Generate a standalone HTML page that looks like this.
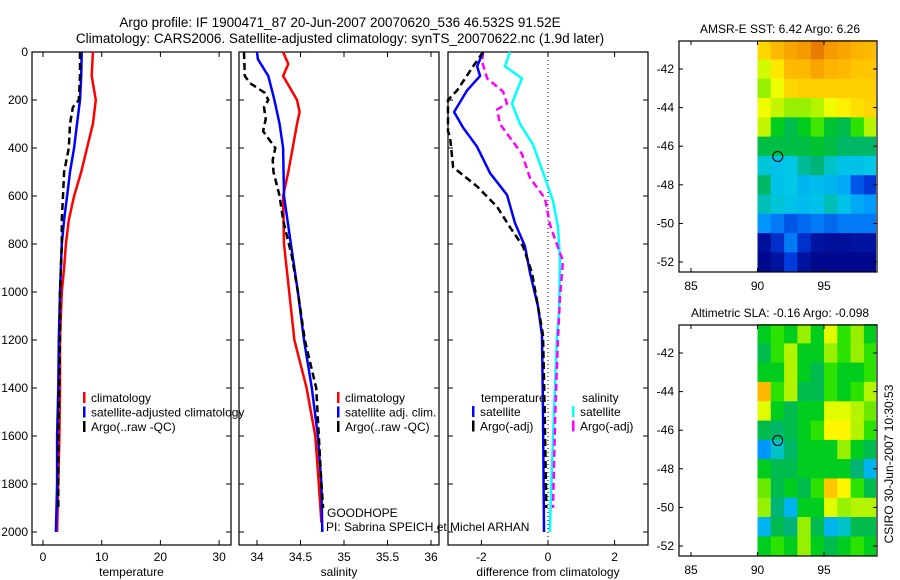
<!DOCTYPE html>
<html><head><meta charset="utf-8"><style>
body{margin:0;background:#fff}
svg{display:block;font-family:"Liberation Sans",sans-serif;font-size:12px}
</style></head><body>
<svg id="fig" width="900" height="580" viewBox="0 0 900 580" xmlns="http://www.w3.org/2000/svg">
<text x="340" y="27" text-anchor="middle" font-size="13.5">Argo profile: IF 1900471_87 20-Jun-2007 20070620_536 46.532S 91.52E</text>
<text x="340" y="43" text-anchor="middle" font-size="13.5">Climatology: CARS2006. Satellite-adjusted climatology: synTS_20070622.nc (1.9d later)</text>
<g id="marks"></g>
</svg>
<script>
// ---------- data ----------
const depthTicks=[0,200,400,600,800,1000,1200,1400,1600,1800,2000];
const tempTicks=[0,10,20,30];
const salTicks=[34,34.5,35,35.5,36];
const diffTicks=[-2,0,2];
const tClimD=[0,100,200,300,400,500,600,700,800,900,1000,1200,1400,1600,2000];
const tClimV=[8.5,8.3,9.0,8.5,7.5,6.5,5.3,4.4,3.9,3.6,3.2,2.9,2.9,2.8,2.4];
const tSatD=[0,100,200,300,400,500,600,700,800,1000,1200,1400,1600,1800,2000];
const tSatV=[6.6,6.5,6.3,5.8,5.3,4.6,4.1,3.6,3.2,2.9,2.7,2.6,2.4,2.4,2.2];
const tArgoD=[0,100,200,230,300,400,500,600,700,800,1000,1200,1600,1900];
const tArgoV=[6.3,6.3,6.1,5.1,4.6,4.4,3.6,3.4,3.2,3.2,2.9,2.9,2.6,2.6];
const sClimD=[0,50,100,150,200,250,300,400,500,600,800,1000,1200,1400,1600,1800,1960];
const sClimV=[34.30,34.36,34.30,34.38,34.46,34.49,34.46,34.41,34.36,34.30,34.31,34.37,34.43,34.57,34.67,34.71,34.74];
const sSatD=[0,30,100,200,300,400,600,800,1000,1200,1400,1600,1800,2000];
const sSatV=[34.0,34.01,34.13,34.2,34.26,34.3,34.31,34.39,34.47,34.54,34.63,34.70,34.74,34.75];
const sArgoD=[0,100,130,170,200,230,280,330,400,450,500,600,700,850,1000,1200,1400,1600,1800,1900];
const sArgoV=[33.85,33.86,33.92,34.09,34.13,34.08,34.1,34.07,34.21,34.18,34.19,34.26,34.3,34.4,34.47,34.55,34.68,34.71,34.74,34.76];
const dTSatD=[0,60,100,160,250,315,395,505,595,713,810,920,1060,1180,1500,2000];
const dTSatV=[-1.95,-2.13,-2.04,-2.43,-2.82,-2.55,-2.13,-1.74,-1.23,-0.99,-0.69,-0.54,-0.3,-0.18,-0.15,-0.12];
const dTArgoD=[0,60,160,200,330,355,480,560,645,730,810,920,1060,1180,1500,1900];
const dTArgoV=[-1.95,-2.25,-2.73,-3.3,-3.3,-2.94,-2.85,-2.13,-1.53,-1.14,-0.75,-0.48,-0.3,-0.15,-0.1,-0.05];
const dSSatD=[0,60,110,150,215,300,385,525,620,730,870,1080,1180,1500,2000];
const dSSatV=[-1.14,-1.29,-0.78,-0.9,-1.08,-0.84,-0.45,-0.09,0.15,0.3,0.36,0.33,0.27,0.18,0.05];
const dSArgoD=[0,40,110,165,215,240,300,340,425,525,610,720,815,870,1020,1190,1500,1900];
const dSArgoV=[-1.95,-1.98,-1.83,-1.35,-1.23,-1.53,-1.44,-1.23,-0.78,-0.54,-0.09,0.06,0.3,0.45,0.36,0.3,0.22,0.15];
const lonTicks=[85,90,95];
const latTicks=[-42,-44,-46,-48,-50,-52];
const gridLon=[90,91,92,93,94,95,96,97,98];
const gridLat=[-40.5,-41.5,-42.5,-43.5,-44.5,-45.5,-46.5,-47.5,-48.5,-49.5,-50.5,-51.5];
const sstGrid=[
[0.72,0.76,0.8,0.82,0.88,0.82,0.8,0.77,0.76],
[0.64,0.7,0.76,0.76,0.8,0.77,0.76,0.74,0.74],
[0.6,0.66,0.72,0.73,0.73,0.73,0.73,0.73,0.73],
[0.66,0.63,0.6,0.6,0.62,0.66,0.69,0.71,0.72],
[0.63,0.5,0.45,0.5,0.56,0.48,0.45,0.55,0.62],
[0.46,0.46,0.46,0.46,0.48,0.46,0.42,0.42,0.42],
[0.34,0.32,0.33,0.38,0.4,0.35,0.32,0.32,0.33],
[0.42,0.32,0.33,0.3,0.31,0.3,0.28,0.18,0.14],
[0.36,0.34,0.32,0.31,0.32,0.36,0.32,0.28,0.26],
[0.25,0.22,0.18,0.2,0.22,0.2,0.22,0.22,0.22],
[0.04,0.12,0.22,0.12,0.05,0.04,0.04,0.05,0.05],
[0.02,0.05,0.15,0.05,0.02,0.02,0.02,0.02,0.02]];
const slaGrid=[
[0.5,0.55,0.5,0.6,0.5,0.65,0.55,0.6,0.5],
[0.45,0.55,0.62,0.5,0.5,0.6,0.55,0.6,0.55],
[0.5,0.5,0.62,0.5,0.45,0.55,0.5,0.5,0.55],
[0.76,0.55,0.62,0.45,0.45,0.55,0.5,0.55,0.62],
[0.65,0.5,0.45,0.5,0.5,0.65,0.65,0.62,0.58],
[0.45,0.42,0.45,0.5,0.55,0.68,0.68,0.62,0.55],
[0.25,0.35,0.42,0.5,0.5,0.5,0.6,0.5,0.45],
[0.5,0.45,0.45,0.5,0.5,0.5,0.5,0.4,0.3],
[0.58,0.45,0.5,0.45,0.55,0.74,0.68,0.55,0.45],
[0.6,0.4,0.3,0.5,0.5,0.65,0.6,0.62,0.62],
[0.3,0.45,0.4,0.6,0.45,0.3,0.35,0.45,0.45],
[0.5,0.55,0.5,0.6,0.5,0.45,0.5,0.55,0.5]];
const argoLon=91.52, argoLat=-46.532;

// ---------- drawing ----------
const NS="http://www.w3.org/2000/svg";
const root=document.getElementById('marks');
function mk(tag,attrs,parent){const e=document.createElementNS(NS,tag);for(const k in attrs)e.setAttribute(k,attrs[k]);(parent||root).appendChild(e);return e;}
function txt(x,y,s,anchor,parent){const t=mk('text',{x:x,y:y,'text-anchor':anchor||'start'},parent);t.textContent=s;return t;}
const Y0=52,YS=0.24,BOT=545;
const yD=d=>Y0+d*YS;
function panel(name,x0,x1,xs,ticks,label,fmt){
  const g=mk('g',{});
  
  
  const r=mk('rect',{x:x0,y:Y0,width:x1-x0,height:BOT-Y0,fill:'none',stroke:'#000','stroke-width':1.2},g);
  
  
  ticks.forEach(v=>{const x=xs(v);mk('line',{x1:x,x2:x,y1:BOT,y2:BOT-5,stroke:'#000'},g);mk('line',{x1:x,x2:x,y1:Y0,y2:Y0+5,stroke:'#000'},g);
    const t=txt(x,BOT+16,fmt?fmt(v):String(v),'middle',g);
    
    });
  depthTicks.forEach(d=>{mk('line',{x1:x0,x2:x0+5,y1:yD(d),y2:yD(d),stroke:'#000'},g);mk('line',{x1:x1,x2:x1-5,y1:yD(d),y2:yD(d),stroke:'#000'},g);});
  const l=txt((x0+x1)/2,BOT+31,label,'middle',g);
  
  
  return g;
}
function series(g,xs,D,V,color,dash,name,x0,x1){
  const pts=D.map((d,i)=>Math.max(x0,Math.min(x1,xs(V[i]))).toFixed(1)+','+yD(d).toFixed(1)).join(' ');
  const p=mk('polyline',{points:pts,fill:'none',stroke:color,'stroke-width':2.5,'stroke-dasharray':dash||'none'},g);
  
  
}
function legend(g,x,y,items){
  items.forEach((it,i)=>{const yy=y+i*14.5;mk('rect',{x:x,y:yy-10,width:2.5,height:11,fill:it[0]},g);
    const t=txt(x+8,yy,it[1],'start',g);
    
    });
}
// panel 1
const xT=v=>43+v*5.87;
const g1=panel('temperature-panel',32,231,xT,tempTicks,'temperature');
depthTicks.forEach(d=>{const t=txt(28,yD(d)+4,String(d),'end',g1);
  
  });
series(g1,xT,tClimD,tClimV,'#f00',null,'temp-climatology-line',32,231);
series(g1,xT,tSatD,tSatV,'#00f',null,'temp-satellite-line',32,231);
series(g1,xT,tArgoD,tArgoV,'#000','7,4','temp-argo-line',32,231);
legend(g1,83,402,[['#f00','climatology'],['#00f','satellite-adjusted climatology'],['#000','Argo(..raw -QC)']]);
// panel 2
const xS=v=>257+(v-34)*87;
const g2=panel('salinity-panel',239,439,xS,salTicks,'salinity');
series(g2,xS,sClimD,sClimV,'#f00',null,'sal-climatology-line',239,439);
series(g2,xS,sSatD,sSatV,'#00f',null,'sal-satellite-line',239,439);
series(g2,xS,sArgoD,sArgoV,'#000','7,4','sal-argo-line',239,439);
legend(g2,337,402,[['#f00','climatology'],['#00f','satellite adj. clim.'],['#000','Argo(..raw -QC)']]);
txt(327,517,'GOODHOPE','start',g2);
txt(326,531,'PI: Sabrina SPEICH et Michel ARHAN','start',g2);
// panel 3
const xDf=v=>548+v*33.3;
const g3=panel('difference-panel',448,648,xDf,diffTicks,'difference from climatology');
mk('line',{x1:xDf(0),x2:xDf(0),y1:Y0,y2:BOT,stroke:'#000','stroke-dasharray':'1,3'},g3);
series(g3,xDf,dSSatD,dSSatV,'#0ff',null,'sal-diff-satellite-line',448,648);
series(g3,xDf,dSArgoD,dSArgoV,'#f0f','7,4','sal-diff-argo-line',448,648);
series(g3,xDf,dTSatD,dTSatV,'#00f',null,'temp-diff-satellite-line',448,648);
series(g3,xDf,dTArgoD,dTArgoV,'#000','7,4','temp-diff-argo-line',448,648);
txt(481,402,'temperature','start',g3);txt(582,402,'salinity','start',g3);
legend(g3,472,416,[['#00f','satellite'],['#000','Argo(-adj)']]);
legend(g3,572,416,[['#0ff','satellite'],['#f0f','Argo(-adj)']]);
// maps
const cmapStops=[[0,[0,0,130]],[0.15,[0,60,220]],[0.25,[0,150,255]],[0.33,[0,200,230]],[0.4,[0,180,120]],[0.47,[0,190,60]],[0.53,[0,220,0]],[0.6,[150,240,0]],[0.67,[255,255,0]],[0.75,[255,190,0]],[0.85,[240,140,0]],[1,[200,60,0]]];
function cmap(v){v=Math.max(0,Math.min(1,v));
  for(let i=1;i<cmapStops.length;i++){const a=cmapStops[i-1],b=cmapStops[i];
    if(v<=b[0]){const t=(v-a[0])/(b[0]-a[0]);return 'rgb('+a[1].map((c,k)=>Math.round(c+(b[1][k]-c)*t)).join(',')+')';}}
  return 'rgb(200,60,0)';}
function map(name,top,grid,title,latY42){
  const g=mk('g',{});
  
  
  const L=679,R=877,Bt=top+231;
  const xL=lon=>691+(lon-85)*13.3;
  const yL=lat=>latY42+(-42-lat)*19.3;
  grid.forEach((row,i)=>row.forEach((v,j)=>{
    const x=xL(gridLon[j]),y=yL(gridLat[i]);
    const c=mk('rect',{x:x.toFixed(1),y:y.toFixed(1),width:13.8,height:Math.min(19.8,Bt-y).toFixed(1),fill:cmap(v)},g);
    
    
  }));
  mk('rect',{x:R-1,y:top,width:2,height:231,fill:'#fff'},g);
  mk('rect',{x:L,y:top,width:R-L,height:231,fill:'none',stroke:'#000','stroke-width':1.2},g);
  lonTicks.forEach(v=>{const x=xL(v);mk('line',{x1:x,x2:x,y1:Bt,y2:Bt-4,stroke:'#000'},g);mk('line',{x1:x,x2:x,y1:top,y2:top+4,stroke:'#000'},g);txt(x,Bt+18,String(v),'middle',g);});
  latTicks.forEach(v=>{const y=yL(v);mk('line',{x1:L,x2:L+4,y1:y,y2:y,stroke:'#000'},g);mk('line',{x1:R,x2:R-4,y1:y,y2:y,stroke:'#000'},g);txt(L-5,y+4,String(v),'end',g);});
  const c=mk('circle',{cx:xL(argoLon),cy:yL(argoLat),r:5,fill:'none',stroke:'#000'},g);
  
  
  const t=txt(780,top-8,title,'middle',g);
  
  
}
map('sst-map',41,sstGrid,'AMSR-E SST: 6.42 Argo: 6.26',69);
map('sla-map',325,slaGrid,'Altimetric SLA: -0.16 Argo: -0.098',353);
const st=txt(0,0,'CSIRO 30-Jun-2007 10:30:53','middle');
st.setAttribute('transform','translate(893,464) rotate(-90)');


</script>
</body></html>
